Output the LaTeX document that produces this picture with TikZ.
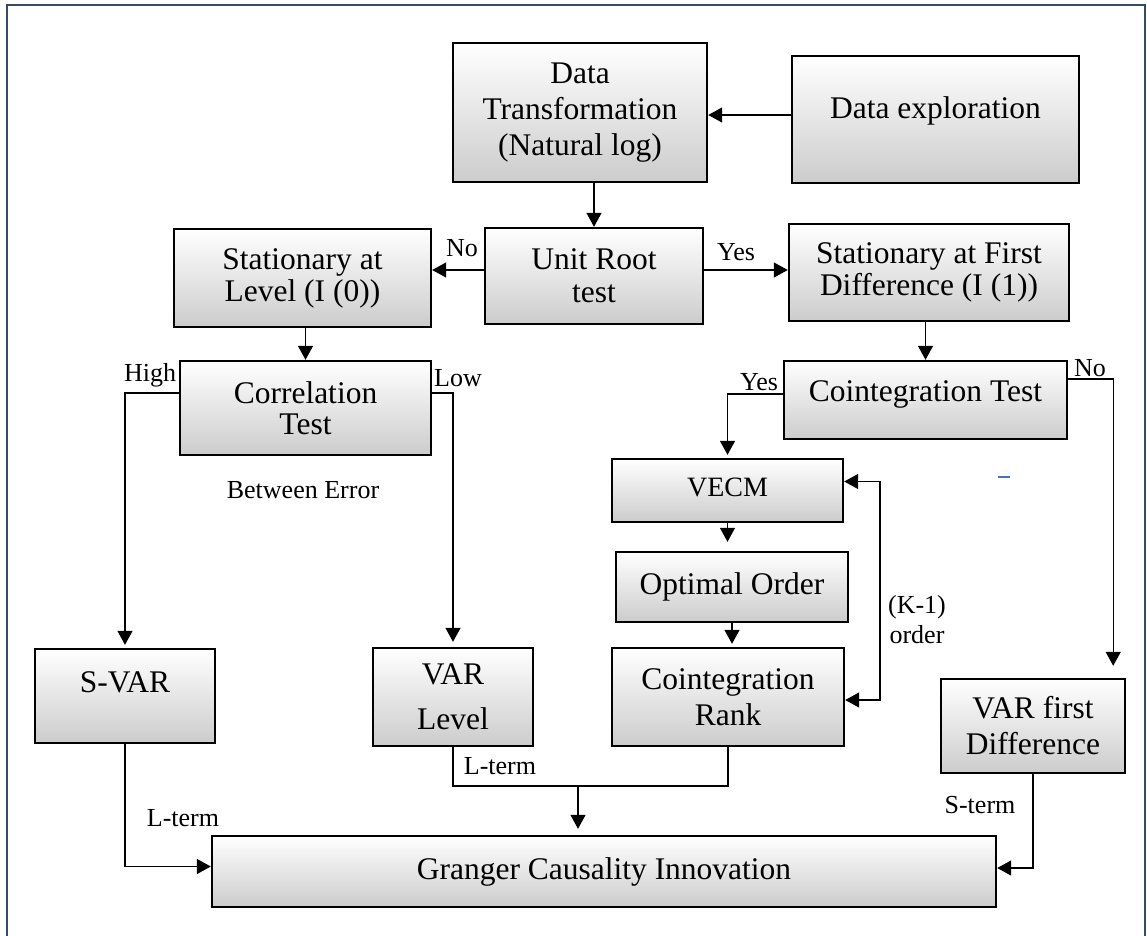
\documentclass[tikz,border=0pt]{standalone}
\usepackage{fontspec}
\setmainfont{Liberation Serif}
\usetikzlibrary{arrows.meta}
\definecolor{framenavy}{RGB}{52,74,108}
\definecolor{dashblue}{RGB}{68,114,196}
\newcommand\boxfont{\fontsize{31.5}{36}\selectfont}
\newcommand\smallboxfont{\fontsize{28}{32}\selectfont}
\newcommand\lblfont{\fontsize{26}{30}\selectfont}
\tikzset{
    stepbox/.style={draw, line width=2.4pt, top color=white, bottom color=black!20, inner sep=0pt, align=center, font=\boxfont},
    link/.style={line width=1.3pt},
    tip/.style={-{Triangle[length=14pt,width=15pt]}},
    arr/.style={link, tip},
    lbl/.style={font=\lblfont, inner sep=0pt, align=center},
}
\begin{document}
\begin{tikzpicture}[x=1pt, y=-1pt]
        \useasboundingbox (0,0) rectangle (1147,935);
        \clip (0,0) rectangle (1147,935);
        \draw[framenavy, line width=2.5pt] (7,5) rectangle (1145,950);

        \node[stepbox, minimum width=254pt, minimum height=139pt] (trans) at (580,112.5) {Data\\Transformation\\(Natural log)};
        \node[stepbox, minimum width=287pt, minimum height=127pt, text depth=24pt] (dexp) at (935.5,119.5) {Data exploration};
        \node[stepbox, minimum width=218pt, minimum height=96pt, font=\fontsize{31.5}{33}\selectfont] (uroot) at (594,276) {Unit Root\\test};
        \node[stepbox, minimum width=257pt, minimum height=98pt, font=\fontsize{31.5}{32}\selectfont] (level) at (302.5,278) {Stationary at\\Level (I (0))};
        \node[stepbox, minimum width=280pt, minimum height=97pt, font=\fontsize{31.5}{32}\selectfont] (fdiff) at (929,272.5) {Stationary at First\\Difference (I (1))};
        \node[stepbox, minimum width=251pt, minimum height=94pt, font=\fontsize{31.5}{31}\selectfont] (corr) at (305.5,408) {Correlation\\Test};
        \node[stepbox, minimum width=283pt, minimum height=78pt, text depth=17pt] (coint) at (925.5,400) {Cointegration Test};
        \node[stepbox, minimum width=231pt, minimum height=63pt, text depth=6pt, font=\smallboxfont] (vecm) at (727.5,490.5) {VECM};
        \node[stepbox, minimum width=232pt, minimum height=70pt] (optord) at (732,587) {Optimal Order};
        \node[stepbox, minimum width=232pt, minimum height=98pt] (rank) at (728,697) {Cointegration\\Rank};
        \node[stepbox, minimum width=180pt, minimum height=94pt, text depth=28pt] (svar) at (125,696) {S-VAR};
        \node[stepbox, minimum width=160pt, minimum height=98pt, font=\fontsize{31.5}{45}\selectfont] (varlev) at (453,697) {VAR\\Level};
        \node[stepbox, minimum width=184pt, minimum height=94pt] (varfd) at (1033,726) {VAR first\\Difference};
        \node[stepbox, minimum width=784pt, minimum height=71pt] (granger) at (604,871.5) {Granger Causality Innovation};

        \draw[arr] ([yshift=4.5pt]dexp.west) -- ([yshift=4.5pt]dexp.west -| trans.east);
        \draw[arr] (trans.south -| uroot.north) -- (uroot.north);
        \draw[arr] ([yshift=6pt]uroot.west) -- ([yshift=6pt]uroot.west -| level.east);
        \draw[arr] ([yshift=6pt]uroot.east) -- ([yshift=6pt]uroot.east -| fdiff.west);
        \node[lbl] (no1) at (462,248) {No};
        \node[lbl] (yes1) at (736,252) {Yes};

        \draw[arr] (level.south -| corr.north) -- (corr.north);
        \draw[arr] ([yshift=15pt]corr.west) -| ([yshift=3pt]svar.north);
        \draw[arr] ([yshift=15pt]corr.east) -| ([yshift=5pt]varlev.north);
        \node[lbl] (high) at (150,375) {High};
        \node[lbl] (low) at (458,378) {Low};
        \node[lbl] (btw) at (303,490) {Between Error};

        \draw[arr] (fdiff.south -| coint.north) -- (coint.north);
        \draw[arr] ([yshift=6pt]coint.west) -| ([yshift=3pt]vecm.north);
        \draw[arr] ([yshift=21pt]coint.east) -| ([xshift=-13pt,yshift=12pt]varfd.north east);
        \node[lbl] (yes2) at (759,382) {Yes};
        \node[lbl] (no2) at (1090,368) {No};

        \draw[arr] (vecm.south) -- ([yshift=9pt]vecm.south |- optord.north);
        \draw[arr] (optord.south) -- ([yshift=3pt]optord.south |- rank.north);
        \coordinate (fbk) at (880,590);
        \draw[link, {Triangle[length=14pt,width=15pt]}-{Triangle[length=14pt,width=15pt]}] ([yshift=9pt]vecm.east) -| (fbk) |- ([yshift=-3pt]rank.east);
        \node[lbl] (kord) at (917,620) {(K-1)\\order};
        \draw[dashblue, line width=1.2pt] (998,477) -- (1010,477);

        \coordinate (merge) at (578,786);
        \draw[link] (varlev.south) |- (merge) -| (rank.south);
        \draw[arr] (merge) -- ([yshift=6pt]merge |- granger.north);
        \draw[arr] (svar.south) |- ([yshift=5pt]granger.west);
        \draw[arr] (varfd.south) |- ([yshift=3.5pt]granger.east);
        \node[lbl] (lterm1) at (500,766) {L-term};
        \node[lbl] (lterm2) at (183,818) {L-term};
        \node[lbl] (sterm) at (980,805) {S-term};

    \end{tikzpicture}
\end{document}
